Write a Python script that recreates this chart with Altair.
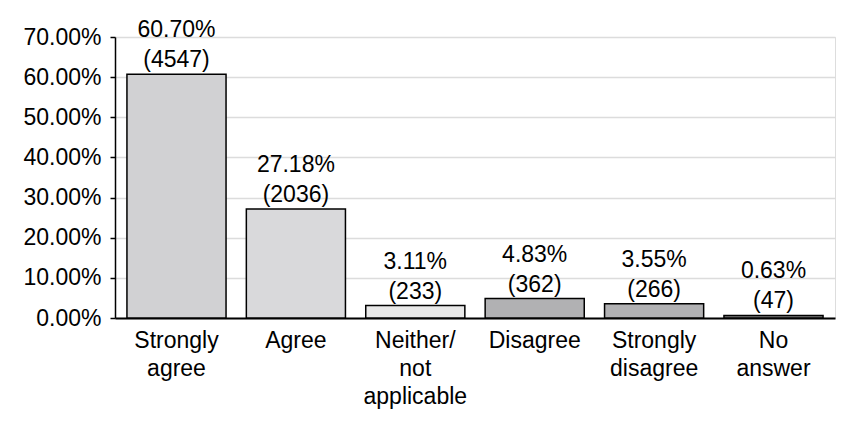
import altair as alt
import pandas as pd

categories = ["Strongly agree", "Agree", "Neither/ not applicable", "Disagree", "Strongly disagree", "No answer"]
axis_labels = ["Strongly|agree", "Agree", "Neither/|not|applicable", "Disagree", "Strongly|disagree", "No|answer"]
percents = [60.70, 27.18, 3.11, 4.83, 3.55, 0.63]
counts = [4547, 2036, 233, 362, 266, 47]
colors = ["#d1d1d3", "#d9d9db", "#e8e8e8", "#b1b1b3", "#b1b1b3", "#7f7f7f"]

df = pd.DataFrame({
    "cat": axis_labels,
    "share": [p / 100 for p in percents],
    "label": [f"{p:.2f}%\n({c})" for p, c in zip(percents, counts)],
})

FONT = "Liberation Sans"
FS = 23

x = alt.X(
    "cat:N",
    sort=axis_labels,
    scale=alt.Scale(paddingInner=0.17, paddingOuter=0.1),
    axis=alt.Axis(
        title=None, labelAngle=0, ticks=False, labelPadding=11,
        labelExpr="split(datum.label, '|')", labelLineHeight=28,
        labelFontSize=FS, labelFont=FONT, labelColor="black",
        domainColor="black", domainWidth=2, grid=False,
        labelBaseline="top",
    ),
)

y = alt.Y(
    "share:Q",
    scale=alt.Scale(domain=[0, 0.7], nice=False),
    axis=alt.Axis(
        title=None, format=".2%", values=[0, 0.1, 0.2, 0.3, 0.4, 0.5, 0.6, 0.7],
        labelFontSize=FS, labelFont=FONT, labelColor="black", labelPadding=9,
        tickColor="black", tickSize=5, tickWidth=1.5,
        domainColor="black", domainWidth=1.5,
        grid=True, gridColor="#dcdcdc", gridWidth=1.5,
    ),
)

bars = alt.Chart(df).mark_bar(stroke="black", strokeWidth=1.5).encode(
    x=x,
    y=y,
    color=alt.Color("cat:N", scale=alt.Scale(domain=axis_labels, range=colors), legend=None),
)

text = alt.Chart(df).mark_text(
    baseline="alphabetic", align="center", dy=-37, fontSize=FS, font=FONT,
    color="black", lineBreak="\n", lineHeight=30,
).encode(x=alt.X("cat:N", sort=axis_labels), y="share:Q", text="label:N")

chart = alt.layer(bars, text).properties(
    width=720, height=281,
    autosize=alt.AutoSizeParams(type="none"),
    padding={"left": 107, "top": 29, "right": 11, "bottom": 100},
).configure_view(stroke=None).configure(background="white")

chart.save("out.html", embed_options={"renderer": "svg", "actions": False})
